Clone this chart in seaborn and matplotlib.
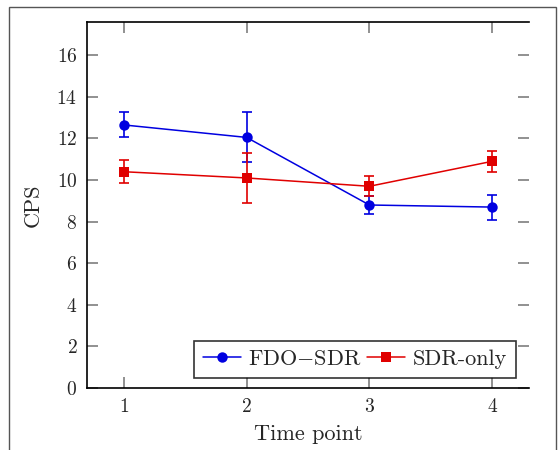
import numpy as np
import pandas as pd
import seaborn as sns
import matplotlib.pyplot as plt
from matplotlib.patches import Rectangle

# values
time_points = [1, 2, 3, 4]
fdo_sdr = [12.65, 12.05, 8.8, 8.7]
fdo_sdr_err = [0.6, 1.2, 0.45, 0.6]
sdr_only = [10.4, 10.1, 9.7, 10.9]
sdr_only_err = [0.55, 1.2, 0.48, 0.5]
series_names = ["FDO$-$SDR", "SDR-only"]

sns.set_style("ticks")
plt.rcParams['font.family'] = ['serif']
plt.rcParams['font.serif'] = ['cmr10', 'DejaVu Serif']
plt.rcParams['mathtext.fontset'] = 'cm'
plt.rcParams['axes.formatter.use_mathtext'] = True

df = pd.DataFrame({
    "Time point": time_points * 2,
    "CPS": fdo_sdr + sdr_only,
    "err": fdo_sdr_err + sdr_only_err,
    "series": [series_names[0]] * 4 + [series_names[1]] * 4,
})

colors = {series_names[0]: "#0000e0", series_names[1]: "#e00000"}

fig = plt.figure(figsize=(5.58, 4.5), dpi=100)
ax = fig.add_axes([87 / 558, 62 / 450, 442 / 558, 366 / 450])

# error bars first
for name in series_names:
    sub = df[df["series"] == name]
    ax.errorbar(sub["Time point"], sub["CPS"], yerr=sub["err"], fmt="none",
                ecolor=colors[name], elinewidth=1.2, capsize=3.3, capthick=1.2, zorder=2)

sns.lineplot(data=df, x="Time point", y="CPS", hue="series", style="series",
             palette=colors, markers={series_names[0]: "o", series_names[1]: "s"},
             dashes=False, markersize=7.5, markeredgewidth=0, linewidth=1.1,
             ax=ax, zorder=3)

ax.set_xlim(0.7, 4.3)
ax.set_ylim(0, 17.6)
ax.set_xticks(time_points)
ax.set_yticks(np.arange(0, 17, 2))
ax.spines["right"].set_visible(False)
for s in ["left", "bottom", "top"]:
    ax.spines[s].set_linewidth(1.2)
    ax.spines[s].set_color("black")
ax.tick_params(direction="in", length=8, width=1.3, color="#888888",
               top=True, right=True, labelsize=14, pad=7)
ax.set_xlabel("Time point", fontsize=16, labelpad=6)
ax.set_ylabel("CPS", fontsize=16, labelpad=10)

leg = ax.legend(title=None, ncol=2, loc="lower right", bbox_to_anchor=(0.971, 0.027),
                fontsize=16, frameon=True, fancybox=False, handlelength=1.7,
                columnspacing=0.25, handletextpad=0.35, borderpad=0.4,
                borderaxespad=0)
leg.get_frame().set_edgecolor("black")
leg.get_frame().set_linewidth(1.2)

# outer frame around the figure
fig.patches.append(Rectangle((8.5 / 558, -0.1), (556 - 8.5) / 558, 1.1 - 6.5 / 450,
                             transform=fig.transFigure, fill=False,
                             edgecolor="#555555", linewidth=1))

fig.savefig("out.png", dpi=100)
